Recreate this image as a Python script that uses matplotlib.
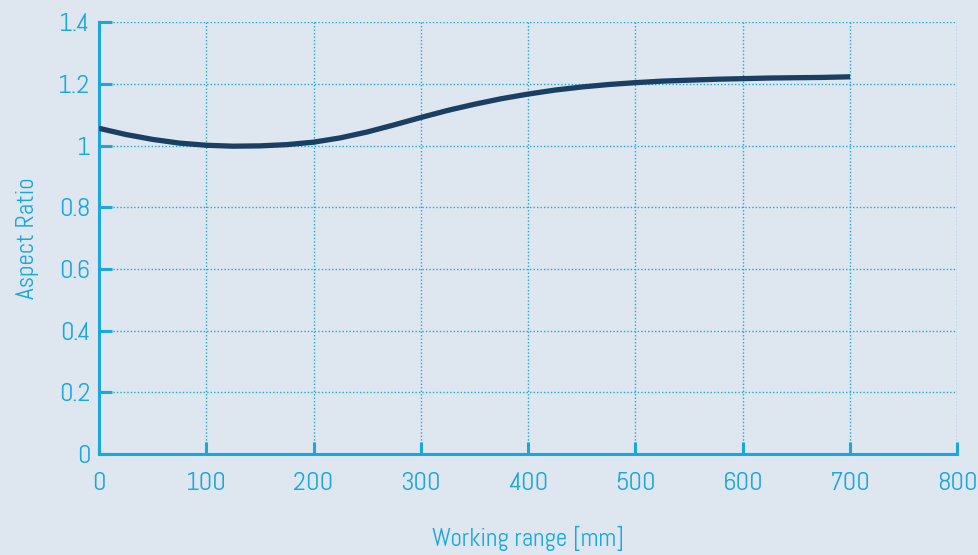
import matplotlib
matplotlib.use('Agg')
import matplotlib.pyplot as plt

# dados
working_range = [0, 25, 50, 75, 100, 125, 150, 175, 200, 225, 250, 275, 300, 325, 350,
                 375, 400, 425, 450, 475, 500, 525, 550, 575, 600, 625, 650, 675, 700]
aspect_ratio = [1.056, 1.036, 1.020, 1.008, 1.001, 0.998, 0.999, 1.003, 1.011, 1.025, 1.044,
                1.067, 1.091, 1.114, 1.134, 1.152, 1.167, 1.180, 1.190, 1.198, 1.204,
                1.209, 1.212, 1.215, 1.217, 1.219, 1.220, 1.221, 1.223]
x_ticks = [0, 100, 200, 300, 400, 500, 600, 700, 800]
y_ticks = [0, 0.2, 0.4, 0.6, 0.8, 1, 1.2, 1.4]
y_labels = ['0', '0.2', '0.4', '0.6', '0.8', '1', '1.2', '1.4']

bg = '#dee7f0'
cyan = '#1aa7dc'
navy = '#1b3f63'

# fonte condensada parecida com DIN
plt.rcParams['font.family'] = ['Abel', 'Barlow Condensed', 'DejaVu Sans']

fig = plt.figure(figsize=(9.79, 5.55), dpi=100, facecolor=bg)
ax = fig.add_axes([0.101, 0.182, 0.877, 0.778], facecolor=bg)

ax.plot(working_range, aspect_ratio, color=navy, lw=3.8, solid_capstyle='butt', zorder=3)

ax.set_xlim(0, 800)
ax.set_ylim(0, 1.4)
ax.set_xticks(x_ticks)
ax.set_yticks(y_ticks)
ax.set_yticklabels(y_labels)

ax.grid(True, color=cyan, linestyle=(0, (1, 1.5)), lw=1)
for s in ['top', 'right']:
    ax.spines[s].set_visible(False)
for s in ['left', 'bottom']:
    ax.spines[s].set_color(cyan)
    ax.spines[s].set_linewidth(2.2)

ax.tick_params(axis='both', direction='in', color=cyan, width=2.2, length=9,
               labelcolor=cyan, labelsize=19, pad=6)
ax.tick_params(axis='x', pad=13)

ax.set_xlabel('Working range [mm]', color=cyan, fontsize=18, labelpad=22)
ax.set_ylabel('Aspect Ratio', color=cyan, fontsize=18, labelpad=14)

fig.savefig('out.png', dpi=100, facecolor=bg)
